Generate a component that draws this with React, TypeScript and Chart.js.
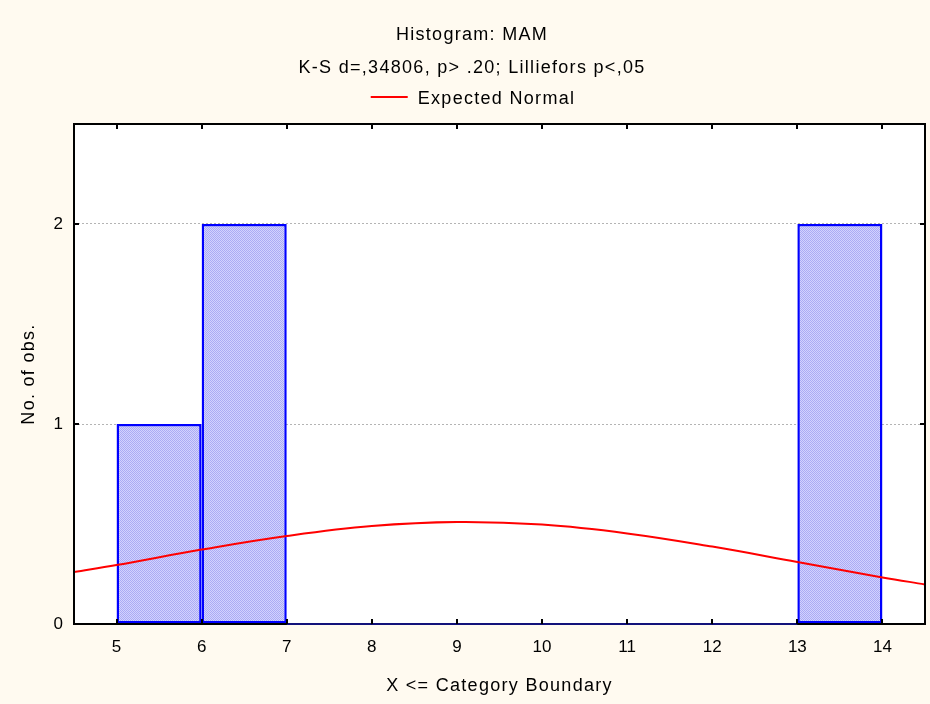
import React, { useEffect, useRef } from "react";
import { Chart, registerables } from "chart.js";

Chart.register(...registerables);

// ---- texts ----
const titleText = "Histogram: MAM";
const subtitleText = "K-S d=,34806, p> .20; Lilliefors p<,05";
const legendLabel = "Expected Normal";
const xAxisTitle = "X <= Category Boundary";
const yAxisTitle = "No. of obs.";

// ---- histogram data ----
const binStarts = [5, 6, 7, 8, 9, 10, 11, 12, 13];
const binCounts = [1, 2, 0, 0, 0, 0, 0, 0, 2];
const binWidth = 1;

// ---- expected normal curve ----
const curveX = [4.5, 5, 6, 7, 8, 9, 10, 11, 12, 13, 14, 14.5];
const curveY = [0.26, 0.295, 0.372, 0.44, 0.49, 0.51, 0.497, 0.453, 0.387, 0.31, 0.233, 0.198];

// ---- axes ----
const xTicks = [5, 6, 7, 8, 9, 10, 11, 12, 13, 14];
const yTicks = [0, 1, 2];
const xMin = 4.5;
const xMax = 14.5;
const yMin = 0;
const yMax = 2.5;

const FONT = '"Liberation Sans", Arial, sans-serif';
const BG = "#FFFAF0";

function makePattern(): CanvasPattern | string {
  const c = document.createElement("canvas");
  c.width = 2;
  c.height = 2;
  const g = c.getContext("2d");
  if (!g) return "#BEBEF8";
  g.fillStyle = "#D2D2FE";
  g.fillRect(0, 0, 2, 2);
  g.fillStyle = "#ABABF4";
  g.fillRect(0, 0, 1, 1);
  g.fillRect(1, 1, 1, 1);
  const p = g.createPattern(c, "repeat");
  return p || "#BEBEF8";
}

const decorPlugin = {
  id: "decor",
  beforeDraw(chart: any) {
    const { ctx, chartArea: a } = chart;
    ctx.save();
    ctx.fillStyle = BG;
    ctx.fillRect(0, 0, chart.width, chart.height);
    ctx.fillStyle = "#FFFFFF";
    ctx.fillRect(a.left, a.top, a.right - a.left, a.bottom - a.top);
    ctx.restore();
  },
  afterDatasetsDraw(chart: any) {
    const { ctx, chartArea: a } = chart;
    const xs = chart.scales.x;
    const ys = chart.scales.y;
    ctx.save();
    // frame
    ctx.strokeStyle = "#000000";
    ctx.lineWidth = 2;
    ctx.strokeRect(a.left, a.top, a.right - a.left, a.bottom - a.top);
    // zero-count bins: line along the base
    const y0 = ys.getPixelForValue(0);
    ctx.strokeStyle = "#12127A";
    ctx.lineWidth = 2;
    binStarts.forEach((s, i) => {
      if (binCounts[i] === 0) {
        ctx.beginPath();
        ctx.moveTo(xs.getPixelForValue(s), y0);
        ctx.lineTo(xs.getPixelForValue(s + binWidth), y0);
        ctx.stroke();
      }
    });
    // inward ticks
    ctx.strokeStyle = "#000000";
    ctx.lineWidth = 2;
    const tl = 5;
    xTicks.forEach((v) => {
      const px = Math.round(xs.getPixelForValue(v));
      ctx.beginPath();
      ctx.moveTo(px, a.top);
      ctx.lineTo(px, a.top + tl);
      ctx.moveTo(px, a.bottom);
      ctx.lineTo(px, a.bottom - tl);
      ctx.stroke();
    });
    yTicks.forEach((v) => {
      const py = Math.round(ys.getPixelForValue(v));
      ctx.beginPath();
      ctx.moveTo(a.left, py);
      ctx.lineTo(a.left + tl, py);
      ctx.moveTo(a.right, py);
      ctx.lineTo(a.right - tl, py);
      ctx.stroke();
    });
    ctx.restore();
  },
  afterDraw(chart: any) {
    const { ctx, chartArea: a } = chart;
    ctx.save();
    ctx.fillStyle = "#000000";
    ctx.textBaseline = "alphabetic";
    ctx.font = `18px ${FONT}`;
    (ctx as any).letterSpacing = "1.3px";
    ctx.textAlign = "center";
    const cx = 472;
    ctx.fillText(titleText, cx, 39.5);
    ctx.fillText(subtitleText, cx, 73);
    // legend
    ctx.textAlign = "left";
    const tw = ctx.measureText(legendLabel).width;
    const lineW = 37;
    const gap = 10;
    const total = lineW + gap + tw;
    const lx = 473 - total / 2;
    ctx.strokeStyle = "#FF0000";
    ctx.lineWidth = 2;
    ctx.beginPath();
    ctx.moveTo(lx, 97);
    ctx.lineTo(lx + lineW, 97);
    ctx.stroke();
    ctx.fillText(legendLabel, lx + lineW + gap, 103.5);
    // x axis title
    ctx.textAlign = "center";
    ctx.fillText(xAxisTitle, (a.left + a.right) / 2, 691);
    // y axis title
    ctx.translate(34, (a.top + a.bottom) / 2);
    ctx.rotate(-Math.PI / 2);
    ctx.fillText(yAxisTitle, 0, 0);
    ctx.restore();
  },
};

export default function App() {
  const ref = useRef<HTMLCanvasElement | null>(null);

  useEffect(() => {
    document.body.style.margin = "0";
    document.body.style.background = BG;
    const canvas = ref.current;
    if (!canvas) return;
    const fill = makePattern();
    const chart = new Chart(canvas, {
      type: "bar",
      data: {
        datasets: [
          {
            type: "line",
            label: legendLabel,
            data: curveX.map((x, i) => ({ x, y: curveY[i] })),
            borderColor: "#FF0000",
            borderWidth: 2,
            pointRadius: 0,
            tension: 0.4,
            fill: false,
            order: 0,
          } as any,
          {
            type: "bar",
            label: "Counts",
            data: binStarts.map((s, i) => ({ x: s + binWidth / 2, y: binCounts[i] })),
            backgroundColor: fill as any,
            borderColor: "#0000FF",
            borderWidth: 2.5,
            borderSkipped: false,
            barPercentage: 1,
            categoryPercentage: 1,
            inflateAmount: 0,
            order: 1,
          } as any,
        ],
      },
      options: {
        responsive: false,
        animation: false,
        devicePixelRatio: 1,
        layout: { padding: { top: 124, right: 5, left: 0, bottom: 0 } },
        plugins: {
          legend: { display: false },
          title: { display: false },
          tooltip: { enabled: false },
        },
        scales: {
          x: {
            type: "linear",
            min: xMin,
            max: xMax,
            offset: false,
            afterBuildTicks: (scale: any) => {
              scale.ticks = xTicks.map((v) => ({ value: v }));
            },
            afterFit: (scale: any) => {
              scale.height = 80;
            },
            grid: { display: false, drawTicks: false },
            border: { display: false },
            ticks: {
              color: "#000000",
              font: { family: FONT, size: 17 },
              padding: 13,
              maxRotation: 0,
              autoSkip: false,
              callback: (v: any) => String(v),
            },
          },
          y: {
            type: "linear",
            min: yMin,
            max: yMax,
            afterBuildTicks: (scale: any) => {
              scale.ticks = yTicks.map((v) => ({ value: v }));
            },
            afterFit: (scale: any) => {
              scale.width = 74;
            },
            grid: {
              drawTicks: false,
              color: (c: any) => (c.tick && c.tick.value === 0 ? "rgba(0,0,0,0)" : "#B4B4B4"),
              lineWidth: 1,
            },
            border: { display: false, dash: [2, 2] },
            ticks: {
              color: "#000000",
              font: { family: FONT, size: 17 },
              padding: 11,
              callback: (v: any) => String(v),
            },
          },
        },
      },
      plugins: [decorPlugin],
    });
    return () => chart.destroy();
  }, []);

  return (
    <div style={{ width: 930, height: 704, background: BG }}>
      <canvas ref={ref} width={930} height={704} style={{ display: "block", width: 930, height: 704 }} />
    </div>
  );
}
